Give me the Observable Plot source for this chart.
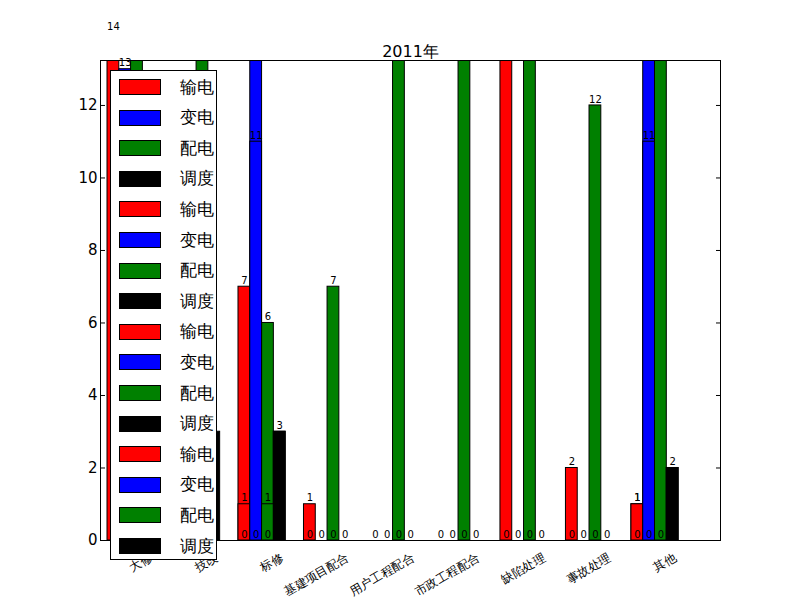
<!DOCTYPE html>
<html><head><meta charset="utf-8">
<script src="https://cdn.jsdelivr.net/npm/d3@7"></script>
<script src="https://cdn.jsdelivr.net/npm/@observablehq/plot@0.6"></script>
<style>
body{margin:0;background:#fff;font-family:"DejaVu Sans",sans-serif}
#wrap{position:relative;width:800px;height:600px}
#legend{position:absolute;left:110px;top:70px;width:107px;height:490px;border:1px solid #000;background:#fff;box-sizing:border-box}
.li{position:absolute;left:8px;height:16px;display:flex;align-items:center;font-size:17px}
.sw{width:40px;height:14px;border:1px solid #000;margin-right:19px}
</style></head><body>
<div id="wrap"><div id="chart"></div><div id="legend"></div></div>
<script>
const categories = ["大修","技改","标修","基建项目配合","用户工程配合","市政工程配合","缺陷处理","事故处理","其他"];
const series = ["输电","变电","配电","调度"];
const colors = ["#ff0000","#0000ff","#008000","#000000"];
// layer 1 (largest values)
const red1   = [14, 0, 7, 1, 0, 0, 20, 2, 1];
const blue1  = [13, 0, 20, 0, 0, 0, 0, 0, 20];
const green1 = [20, 20, 6, 7, 20, 20, 20, 12, 20];
const black1 = [0, 3, 3, 0, 0, 0, 0, 0, 2];
// layer 2 (overlaid values)
const red2   = [0, 0, 1, 0, 0, 0, 0, 0, 1];
const blue2  = [0, 0, 11, 0, 0, 0, 0, 0, 11];
const green2 = [0, 0, 1, 0, 0, 0, 0, 0, 0];
const black2 = [0, 0, 3, 0, 0, 0, 0, 0, 2];
// layer 3 (zero values)
const zeros  = [0, 0, 0, 0, 0, 0, 0, 0, 0];
const yTicks = [0, 2, 4, 6, 8, 10, 12];

const W = 0.18;
function layer(arrs, L){
  const out=[];
  arrs.forEach((a,s)=>a.forEach((v,i)=>out.push({i,s,v,L,x1:i+s*W,x2:i+(s+1)*W,xm:i+(s+0.5)*W})));
  return out;
}
const layers = [
  layer([red1,blue1,green1,black1],1),
  layer([red2,blue2,green2,black2],2),
  layer([zeros,zeros,zeros,zeros],3)
];
const marks=[];
layers.forEach(d=>{
  marks.push(Plot.rectY(d,{x1:"x1",x2:"x2",y1:0,y2:"v",fill:d=>colors[d.s],stroke:"#000",strokeWidth:1,clip:true}));
  const lab = d.filter(e=>e.L===3 ? true : (e.v>0 && e.v<=14 && !(e.L===2 && e.s===3)));
  marks.push(Plot.text(lab,{x:"xm",y:"v",text:d=>String(d.v),dy:-6,fontSize:10,fill:"#000"}));
});
marks.push(Plot.frame({stroke:"#000"}));
marks.push(Plot.text(["2011年"],{frameAnchor:"top",dy:-15,fontSize:16,fill:"#000"}));
const tickPos = categories.map((c,i)=>i+0.36);
const chart = Plot.plot({
  width:800,height:600,marginLeft:100,marginRight:80,marginTop:60,marginBottom:60,
  style:{fontFamily:"DejaVu Sans",background:"#fff"},
  x:{domain:[-0.107,9.36],label:null,axis:null},
  y:{domain:[0,13.24],label:null,axis:null},
  marks:[
    ...marks,
    Plot.axisY({ticks:yTicks,tickSize:-5,fontSize:15,tickPadding:8,label:null}),
    Plot.axisY({ticks:yTicks,anchor:"right",tickSize:-5,tickFormat:()=>"",label:null}),
    Plot.axisX({ticks:tickPos,tickFormat:(t)=>categories[Math.round(t-0.36)],tickRotate:-30,tickSize:0,fontSize:12,label:null,textAnchor:"end",dx:20,dy:4})
  ]
});
document.getElementById("chart").appendChild(chart);
const lg=document.getElementById("legend");
for(let k=0;k<16;k++){
  const s=k%4;
  const el=document.createElement("div");
  el.className="li";el.style.top=(8+k*30.6)+"px";
  el.innerHTML=`<div class="sw" style="background:${colors[s]}"></div><span>${series[s]}</span>`;
  lg.appendChild(el);
}
</script></body></html>
